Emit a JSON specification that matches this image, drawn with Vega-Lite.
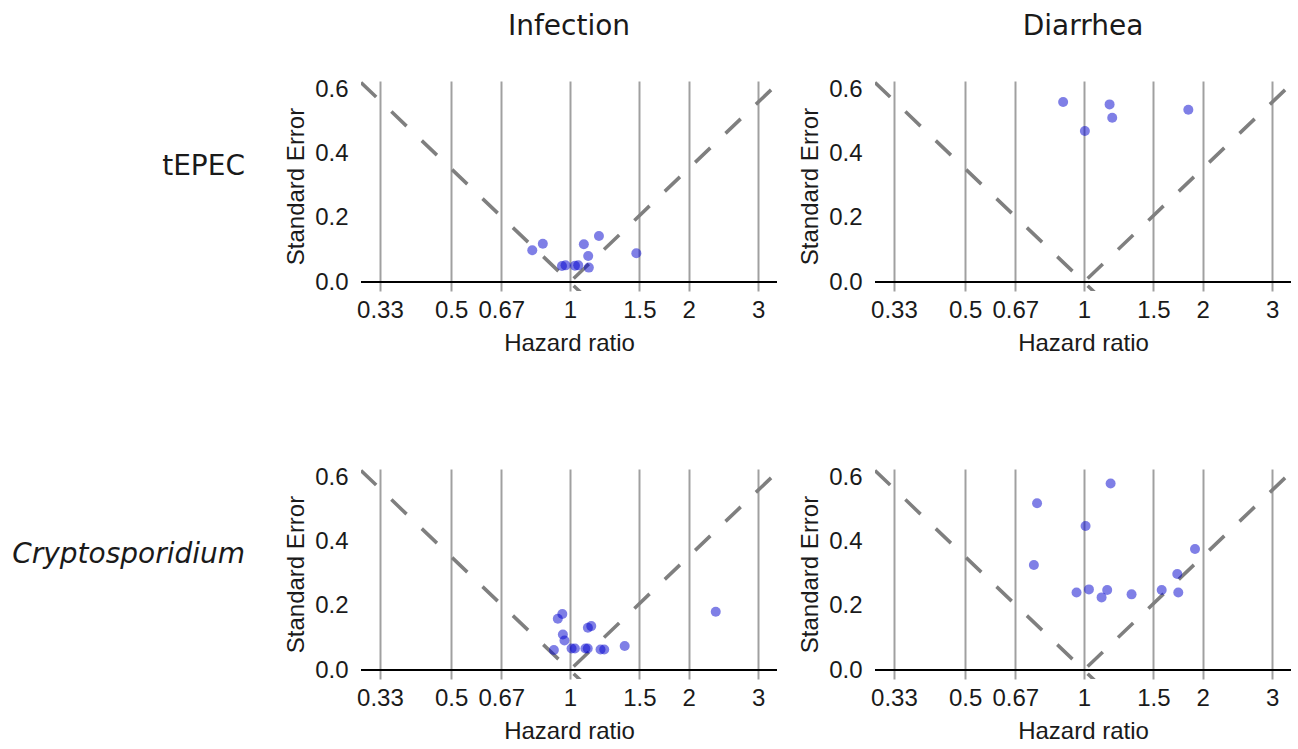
{
  "$schema": "https://vega.github.io/schema/vega-lite/v6.json",
  "padding": {"left": 12, "top": 13, "right": 0, "bottom": 0},
  "background": "white",
  "data": {"values": [
    {"pathogen": "tEPEC", "outcome": "Infection", "type": "pt", "hr": 0.803, "se": 0.099},
    {"pathogen": "tEPEC", "outcome": "Infection", "type": "pt", "hr": 0.854, "se": 0.1195},
    {"pathogen": "tEPEC", "outcome": "Infection", "type": "pt", "hr": 0.955, "se": 0.050},
    {"pathogen": "tEPEC", "outcome": "Infection", "type": "pt", "hr": 0.975, "se": 0.052},
    {"pathogen": "tEPEC", "outcome": "Infection", "type": "pt", "hr": 1.03, "se": 0.051},
    {"pathogen": "tEPEC", "outcome": "Infection", "type": "pt", "hr": 1.05, "se": 0.052},
    {"pathogen": "tEPEC", "outcome": "Infection", "type": "pt", "hr": 1.117, "se": 0.045},
    {"pathogen": "tEPEC", "outcome": "Infection", "type": "pt", "hr": 1.113, "se": 0.081},
    {"pathogen": "tEPEC", "outcome": "Infection", "type": "pt", "hr": 1.085, "se": 0.118},
    {"pathogen": "tEPEC", "outcome": "Infection", "type": "pt", "hr": 1.185, "se": 0.1435},
    {"pathogen": "tEPEC", "outcome": "Infection", "type": "pt", "hr": 1.474, "se": 0.0895},
    {"pathogen": "tEPEC", "outcome": "Diarrhea", "type": "pt", "hr": 0.886, "se": 0.5616},
    {"pathogen": "tEPEC", "outcome": "Diarrhea", "type": "pt", "hr": 1.006, "se": 0.471},
    {"pathogen": "tEPEC", "outcome": "Diarrhea", "type": "pt", "hr": 1.162, "se": 0.554},
    {"pathogen": "tEPEC", "outcome": "Diarrhea", "type": "pt", "hr": 1.18, "se": 0.5126},
    {"pathogen": "tEPEC", "outcome": "Diarrhea", "type": "pt", "hr": 1.84, "se": 0.5376},
    {"pathogen": "Cryptosporidium", "outcome": "Infection", "type": "pt", "hr": 0.957, "se": 0.1747},
    {"pathogen": "Cryptosporidium", "outcome": "Infection", "type": "pt", "hr": 0.932, "se": 0.160},
    {"pathogen": "Cryptosporidium", "outcome": "Infection", "type": "pt", "hr": 0.960, "se": 0.111},
    {"pathogen": "Cryptosporidium", "outcome": "Infection", "type": "pt", "hr": 0.969, "se": 0.092},
    {"pathogen": "Cryptosporidium", "outcome": "Infection", "type": "pt", "hr": 0.911, "se": 0.0624},
    {"pathogen": "Cryptosporidium", "outcome": "Infection", "type": "pt", "hr": 1.01, "se": 0.067},
    {"pathogen": "Cryptosporidium", "outcome": "Infection", "type": "pt", "hr": 1.03, "se": 0.067},
    {"pathogen": "Cryptosporidium", "outcome": "Infection", "type": "pt", "hr": 1.095, "se": 0.067},
    {"pathogen": "Cryptosporidium", "outcome": "Infection", "type": "pt", "hr": 1.11, "se": 0.067},
    {"pathogen": "Cryptosporidium", "outcome": "Infection", "type": "pt", "hr": 1.196, "se": 0.064},
    {"pathogen": "Cryptosporidium", "outcome": "Infection", "type": "pt", "hr": 1.222, "se": 0.064},
    {"pathogen": "Cryptosporidium", "outcome": "Infection", "type": "pt", "hr": 1.111, "se": 0.132},
    {"pathogen": "Cryptosporidium", "outcome": "Infection", "type": "pt", "hr": 1.133, "se": 0.137},
    {"pathogen": "Cryptosporidium", "outcome": "Infection", "type": "pt", "hr": 1.377, "se": 0.075},
    {"pathogen": "Cryptosporidium", "outcome": "Infection", "type": "pt", "hr": 2.343, "se": 0.182},
    {"pathogen": "Cryptosporidium", "outcome": "Diarrhea", "type": "pt", "hr": 0.761, "se": 0.52},
    {"pathogen": "Cryptosporidium", "outcome": "Diarrhea", "type": "pt", "hr": 0.747, "se": 0.3276},
    {"pathogen": "Cryptosporidium", "outcome": "Diarrhea", "type": "pt", "hr": 1.169, "se": 0.582},
    {"pathogen": "Cryptosporidium", "outcome": "Diarrhea", "type": "pt", "hr": 1.01, "se": 0.449},
    {"pathogen": "Cryptosporidium", "outcome": "Diarrhea", "type": "pt", "hr": 0.958, "se": 0.242},
    {"pathogen": "Cryptosporidium", "outcome": "Diarrhea", "type": "pt", "hr": 1.03, "se": 0.2515},
    {"pathogen": "Cryptosporidium", "outcome": "Diarrhea", "type": "pt", "hr": 1.109, "se": 0.2265},
    {"pathogen": "Cryptosporidium", "outcome": "Diarrhea", "type": "pt", "hr": 1.146, "se": 0.2496},
    {"pathogen": "Cryptosporidium", "outcome": "Diarrhea", "type": "pt", "hr": 1.321, "se": 0.236},
    {"pathogen": "Cryptosporidium", "outcome": "Diarrhea", "type": "pt", "hr": 1.575, "se": 0.2496},
    {"pathogen": "Cryptosporidium", "outcome": "Diarrhea", "type": "pt", "hr": 1.725, "se": 0.2995},
    {"pathogen": "Cryptosporidium", "outcome": "Diarrhea", "type": "pt", "hr": 1.735, "se": 0.242},
    {"pathogen": "Cryptosporidium", "outcome": "Diarrhea", "type": "pt", "hr": 1.913, "se": 0.3775},
    {"pathogen": "tEPEC", "outcome": "Infection", "type": "fun", "line": "L", "o": 1, "hr": 0.2955, "se": 0.622},
    {"pathogen": "tEPEC", "outcome": "Infection", "type": "fun", "line": "L", "o": 2, "hr": 3.35, "se": -0.617},
    {"pathogen": "tEPEC", "outcome": "Infection", "type": "fun", "line": "R", "o": 1, "hr": 0.2955, "se": -0.622},
    {"pathogen": "tEPEC", "outcome": "Infection", "type": "fun", "line": "R", "o": 2, "hr": 3.35, "se": 0.617},
    {"pathogen": "tEPEC", "outcome": "Diarrhea", "type": "fun", "line": "L", "o": 1, "hr": 0.2955, "se": 0.622},
    {"pathogen": "tEPEC", "outcome": "Diarrhea", "type": "fun", "line": "L", "o": 2, "hr": 3.35, "se": -0.617},
    {"pathogen": "tEPEC", "outcome": "Diarrhea", "type": "fun", "line": "R", "o": 1, "hr": 0.2955, "se": -0.622},
    {"pathogen": "tEPEC", "outcome": "Diarrhea", "type": "fun", "line": "R", "o": 2, "hr": 3.35, "se": 0.617},
    {"pathogen": "Cryptosporidium", "outcome": "Infection", "type": "fun", "line": "L", "o": 1, "hr": 0.2955, "se": 0.622},
    {"pathogen": "Cryptosporidium", "outcome": "Infection", "type": "fun", "line": "L", "o": 2, "hr": 3.35, "se": -0.617},
    {"pathogen": "Cryptosporidium", "outcome": "Infection", "type": "fun", "line": "R", "o": 1, "hr": 0.2955, "se": -0.622},
    {"pathogen": "Cryptosporidium", "outcome": "Infection", "type": "fun", "line": "R", "o": 2, "hr": 3.35, "se": 0.617},
    {"pathogen": "Cryptosporidium", "outcome": "Diarrhea", "type": "fun", "line": "L", "o": 1, "hr": 0.2955, "se": 0.622},
    {"pathogen": "Cryptosporidium", "outcome": "Diarrhea", "type": "fun", "line": "L", "o": 2, "hr": 3.35, "se": -0.617},
    {"pathogen": "Cryptosporidium", "outcome": "Diarrhea", "type": "fun", "line": "R", "o": 1, "hr": 0.2955, "se": -0.622},
    {"pathogen": "Cryptosporidium", "outcome": "Diarrhea", "type": "fun", "line": "R", "o": 2, "hr": 3.35, "se": 0.617}
  ]},
  "facet": {
    "row": {"field": "pathogen", "type": "nominal", "sort": ["tEPEC", "Cryptosporidium"],
      "header": {"title": null, "labelAngle": 0, "labelAlign": "left", "labelBaseline": "line-bottom", "labelLineHeight": 38,
        "labelFont": "DejaVu Sans", "labelFontSize": 28, "labelColor": "#1a1a1a", "labelPadding": 39,
        "labelFontStyle": {"expr": "parent['pathogen'] == 'Cryptosporidium' ? 'italic' : 'normal'"}}},
    "column": {"field": "outcome", "type": "nominal", "sort": ["Infection", "Diarrhea"],
      "header": {"title": null, "labelFont": "DejaVu Sans", "labelFontSize": 28, "labelColor": "#1a1a1a", "labelPadding": 36}}
  },
  "spacing": {"row": 110, "column": 20},
  "resolve": {"axis": {"x": "independent", "y": "independent"}},
  "spec": {
    "width": 416,
    "height": 210,
    "encoding": {
      "x": {"field": "hr", "type": "quantitative",
        "scale": {"type": "log", "domain": [0.2955, 3.35], "nice": false, "zero": false},
        "axis": {"title": "Hazard ratio", "values": [0.33, 0.5, 0.67, 1, 1.5, 2, 3], "format": "~g",
          "grid": true, "gridColor": "#a0a0a0", "gridWidth": 2, "ticks": false, "domain": false,
          "labelPadding": 7, "titlePadding": 9, "labelFlush": false, "labelOverlap": false}},
      "y": {"field": "se", "type": "quantitative",
        "scale": {"domain": [-0.028, 0.627], "nice": false, "zero": false},
        "axis": {"title": "Standard Error", "values": [0, 0.2, 0.4, 0.6], "format": ".1f",
          "grid": false, "ticks": false, "domain": false, "labelPadding": 13, "titlePadding": 6}}
    },
    "layer": [
      {
        "transform": [{"filter": "datum.type == 'fun' && datum.line == 'L' && datum.o == 1"}],
        "mark": {"type": "rule", "color": "black", "strokeWidth": 2},
        "encoding": {"x": null, "y": {"datum": 0, "type": "quantitative"}}
      },
      {
        "transform": [{"filter": "datum.type == 'fun'"}],
        "mark": {"type": "line", "clip": true, "color": "#7f7f7f", "strokeWidth": 3.5, "strokeDash": [21, 21]},
        "encoding": {"detail": {"field": "line"}, "order": {"field": "o", "type": "quantitative"}}
      },
      {
        "transform": [{"filter": "datum.type == 'pt'"}],
        "mark": {"type": "circle", "size": 100, "color": "#0000cd", "opacity": 0.5, "strokeWidth": 0}
      }
    ]
  },
  "config": {
    "view": {"stroke": null},
    "axis": {"labelFont": "Liberation Sans", "labelFontSize": 24, "labelColor": "#1a1a1a",
      "titleFont": "Liberation Sans", "titleFontSize": 24, "titleFontWeight": "normal", "titleColor": "#1a1a1a"}
  }
}
